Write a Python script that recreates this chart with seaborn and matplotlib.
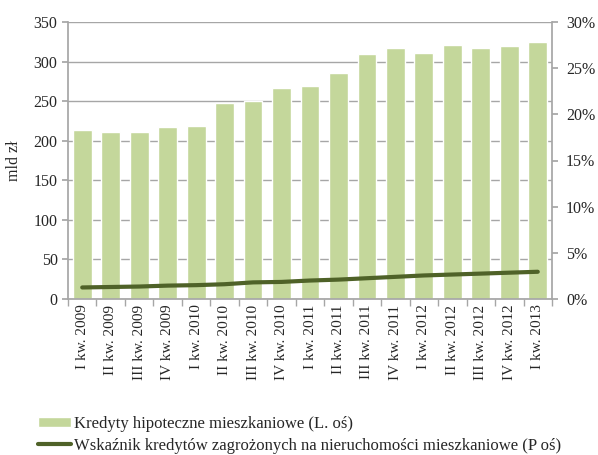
import numpy as np
import pandas as pd
import matplotlib
matplotlib.use('Agg')
import matplotlib.pyplot as plt
import seaborn as sns
from matplotlib.ticker import FuncFormatter

quarters = ['I kw. 2009', 'II kw. 2009', 'III kw. 2009', 'IV kw. 2009',
            'I kw. 2010', 'II kw. 2010', 'III kw. 2010', 'IV kw. 2010',
            'I kw. 2011', 'II kw. 2011', 'III kw. 2011', 'IV kw. 2011',
            'I kw. 2012', 'II kw. 2012', 'III kw. 2012', 'IV kw. 2012',
            'I kw. 2013']
mortgages = [214, 211, 211, 217, 219, 248, 250, 266, 269, 286, 310, 317,
             311, 321, 317, 320, 325]
npl_ratio = [1.25, 1.3, 1.35, 1.45, 1.5, 1.6, 1.8, 1.85, 2.0, 2.1, 2.25, 2.4,
             2.55, 2.65, 2.75, 2.85, 2.95]

bar_label = 'Kredyty hipoteczne mieszkaniowe (L. oś)'
line_label = 'Wskaźnik kredytów zagrożonych na nieruchomości mieszkaniowe (P oś)'

df = pd.DataFrame({'kw': quarters, 'kredyty': mortgages, 'npl': npl_ratio})

sns.set_theme(style='white')
plt.rcParams['font.family'] = ['Liberation Serif', 'DejaVu Serif']

grey = '#a6a6a6'
fig = plt.figure(figsize=(5.98, 4.55), dpi=100)
ax = fig.add_axes([68 / 598, 1 - 299 / 455, (552 - 68) / 598, (299 - 22) / 455])

sns.barplot(data=df, x='kw', y='kredyty', color='#c4d79b', width=0.66,
            saturation=1, ax=ax, label=bar_label, zorder=2)
ax.set_ylim(0, 350)
ax.set_yticks(range(0, 351, 50))
ax.set_xlim(-0.5, len(quarters) - 0.5)
ax.yaxis.grid(True, color=grey, linewidth=1, zorder=0)
ax.set_axisbelow(True)
ax.set_ylabel('mld zł', fontsize=11.5, labelpad=8)
ax.set_xlabel('')
ax.tick_params(axis='x', rotation=90, labelsize=11, length=0, pad=4)
ax.tick_params(axis='y', labelsize=11.5, length=4, color=grey, direction='out', left=True)
for lab in ax.get_xticklabels():
    lab.set_va('top')
# tick marks between categories
ax.set_xticks(np.arange(-0.5, len(quarters), 1), minor=True)
ax.tick_params(axis='x', which='minor', length=5, color=grey, direction='out', bottom=True)
for s in ['top', 'right']:
    ax.spines[s].set_visible(False)
for s in ['left', 'bottom']:
    ax.spines[s].set_color(grey)

ax2 = ax.twinx()
sns.lineplot(x=np.arange(len(quarters)), y=npl_ratio, color='#4f6228',
             linewidth=3, ax=ax2, label=line_label, legend=False)
ax2.set_ylim(0, 30)
ax2.set_yticks(range(0, 31, 5))
ax2.yaxis.set_major_formatter(FuncFormatter(lambda v, p: f'{v:.0f}%'))
ax2.tick_params(axis='y', labelsize=11.5, length=4, color=grey, direction='out',
                right=True, pad=6)
ax2.grid(False)
for s in ['top', 'left', 'bottom']:
    ax2.spines[s].set_visible(False)
ax2.spines['right'].set_color(grey)
ax.set_xlim(-0.5, len(quarters) - 0.5)

h1, l1 = ax.get_legend_handles_labels()
h2, l2 = ax2.get_legend_handles_labels()
if ax.get_legend():
    ax.get_legend().remove()
fig.legend(h1 + h2, l1 + l2, loc='upper left', bbox_to_anchor=(31 / 598, 1 - 409 / 455),
           frameon=False, fontsize=12, handlelength=2.0, handletextpad=0.2,
           handleheight=0.5, labelspacing=0.35, borderaxespad=0)

fig.savefig('out.png', dpi=100)
